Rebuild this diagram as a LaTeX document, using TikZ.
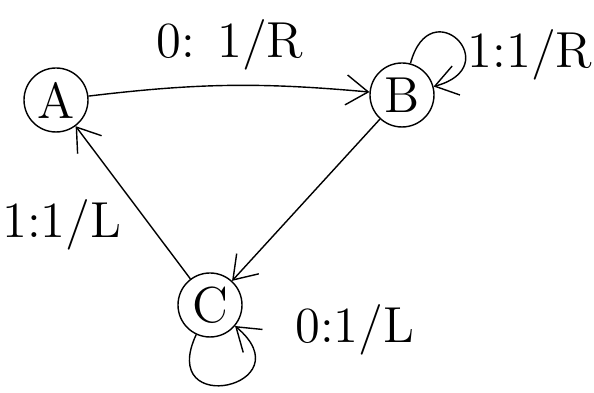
\documentclass[tikz,border=0pt]{standalone}
\usetikzlibrary{arrows.meta,positioning}
\tikzset{
    -{Straight Barb[length=2.2mm,width=3mm]},thick,
    state/.style ={circle, draw, minimum size = 0.64 cm, inner sep=0pt, font=\Large},
    el/.style = {inner sep=2pt, font=\Large}
}
\begin{document}
\begin{tikzpicture}
      \useasboundingbox (0,0) rectangle (5.94,3.93);
      \node[state] (A) at (0.56,2.93) {A};
      \node[state] (B) at (4.02,2.98) {B};
      \node[state] (C) at (2.10,0.88) {C};

      \path (A) edge[bend left=6] (B);
      \path (B) edge (C);
      \path (C) edge (A);
      \path (B) edge[out=75, in=15, looseness=6] (B);
      \path (C) edge[out=245, in=320, looseness=6] (C);

      \node[el] (lBB) at (5.30,3.38) {1:1/R};
      \node[el] (lAB) at (2.30,3.48) {0: 1/R};
      \node[el] (lCA) at (0.62,1.68) {1:1/L};
      \node[el] (lCC) at (3.55,0.63) {0:1/L};
\end{tikzpicture}
\end{document}
